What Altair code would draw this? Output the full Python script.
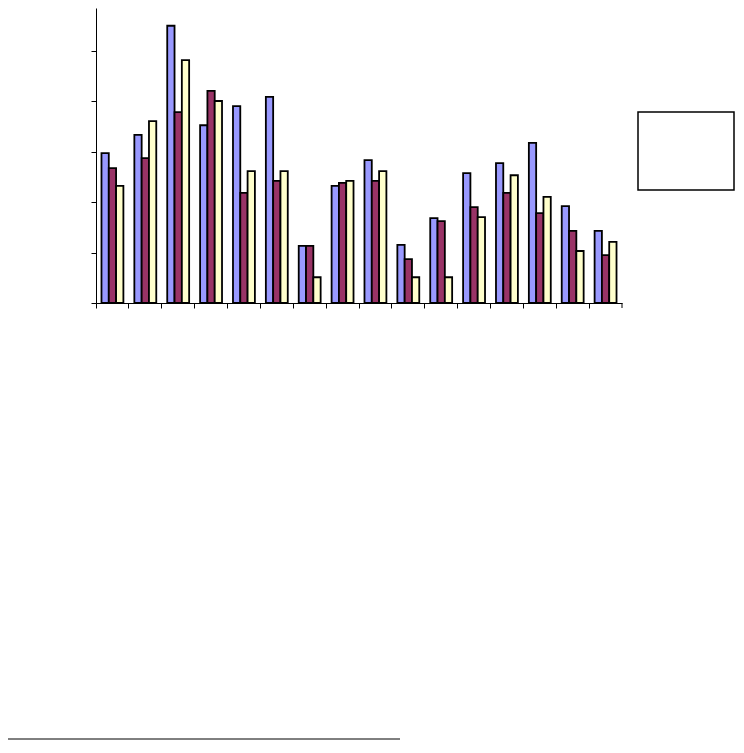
import altair as alt
import pandas as pd

categories = [str(i) for i in range(1, 17)]
series = ["Series 1", "Series 2", "Series 3"]
s1 = [2.97, 3.33, 5.49, 3.52, 3.90, 4.08, 1.13, 2.32, 2.83, 1.15, 1.68, 2.57, 2.77, 3.17, 1.92, 1.43]
s2 = [2.67, 2.87, 3.78, 4.20, 2.18, 2.42, 1.13, 2.38, 2.42, 0.87, 1.62, 1.90, 2.18, 1.78, 1.43, 0.95]
s3 = [2.32, 3.60, 4.81, 4.00, 2.61, 2.61, 0.51, 2.42, 2.61, 0.51, 0.51, 1.70, 2.53, 2.10, 1.03, 1.21]
colors = ["#9999FF", "#993366", "#FFFFCC"]

rows = []
for vals, s in zip([s1, s2, s3], series):
    for c, v in zip(categories, vals):
        rows.append({"cat": c, "series": s, "value": v})
df = pd.DataFrame(rows)

W, H = 526, 295

bars = alt.Chart(df).mark_bar(stroke="black", strokeWidth=1.8).encode(
    x=alt.X("cat:N", sort=categories,
            scale=alt.Scale(paddingInner=0, paddingOuter=0),
            axis=alt.Axis(labels=False, title=None, bandPosition=0, tickSize=5,
                          domainColor="black", tickColor="black", domainWidth=1, tickWidth=1)),
    xOffset=alt.XOffset("series:N", sort=series,
                        scale=alt.Scale(paddingInner=0, paddingOuter=0.75)),
    y=alt.Y("value:Q", scale=alt.Scale(domain=[0, 5.842], nice=False, zero=True),
            axis=alt.Axis(values=[0, 1, 2, 3, 4, 5], labels=False, title=None, grid=False,
                          tickSize=5, domainColor="black", tickColor="black")),
    color=alt.Color("series:N", sort=series,
                    scale=alt.Scale(domain=series, range=colors), legend=None),
)

one = alt.Data(values=[{"a": 1}])
end_tick = alt.Chart(one).mark_rule(color="black", strokeWidth=1).encode(
    x=alt.value(W), y=alt.value(H), y2=alt.value(H + 5))
legend_box = alt.Chart(one).mark_rect(fill="white", stroke="black", strokeWidth=1.5).encode(
    x=alt.value(542), x2=alt.value(638), y=alt.value(104), y2=alt.value(182))
foot_line = alt.Chart(one).mark_rule(color="black", strokeWidth=1).encode(
    x=alt.value(-88), x2=alt.value(304), y=alt.value(731))

chart = alt.layer(bars, end_tick, legend_box, foot_line).properties(
    width=W, height=H,
    autosize=alt.AutoSizeParams(type="none"),
    padding={"left": 88, "top": 0, "right": 114, "bottom": 438},
).configure_view(stroke=None).configure_axis(labels=False)

chart.save("out.html", embed_options={"renderer": "svg", "actions": False})
